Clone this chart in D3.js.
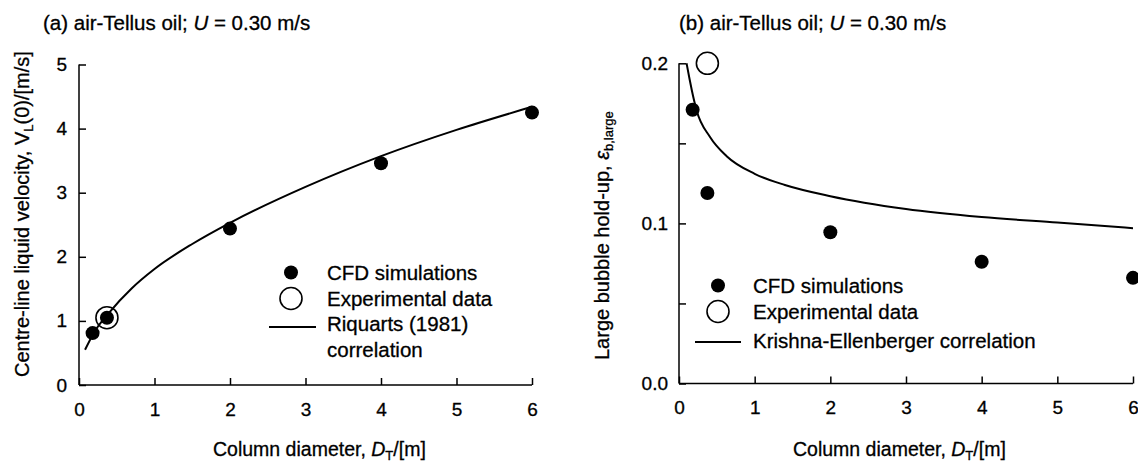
<!DOCTYPE html>
<html>
<head>
<meta charset="utf-8">
<script src="https://cdn.jsdelivr.net/npm/d3@7/dist/d3.min.js"></script>
<style>
  html, body { margin: 0; padding: 0; background: #fff; }
  svg { display: block; font-family: "Liberation Sans", Arial, Helvetica, sans-serif; }
  svg text { stroke: #000; stroke-width: 0.3; fill: #000; }
  .axis path, .axis line { stroke: #000; stroke-width: 1.5; }
  .axis text { font-size: 19px; fill: #000; font-family: "Liberation Sans", Arial, sans-serif; }
</style>
</head>
<body>
<svg id="chart" width="1138" height="462"></svg>
<script>
// ---------- data ----------
const xTicks = [0, 1, 2, 3, 4, 5, 6];

// Panel (a): centre-line liquid velocity
const aCfdX = [0.18, 0.37, 2, 4, 6];
const aCfdY = [0.81, 1.05, 2.44, 3.46, 4.25];
const aExpX = [0.37];
const aExpY = [1.05];
const aCorrX = [0.08, 0.2, 0.4, 0.7, 1, 1.5, 2, 3, 4, 5, 6];
const aCorrY = [0.55, 0.82, 1.13, 1.51, 1.81, 2.2, 2.53, 3.09, 3.57, 3.98, 4.34];
const aYTicks = [0, 1, 2, 3, 4, 5];

// Panel (b): large bubble hold-up
const bCfdX = [0.18, 0.375, 2, 4, 6];
const bCfdY = [0.171, 0.119, 0.0945, 0.076, 0.066];
const bExpX = [0.375];
const bExpY = [0.2];
const bCorrX = [0.1, 0.14, 0.17, 0.23, 0.41, 0.63, 1, 1.4, 2, 3, 4, 5, 6];
const bCorrY = [0.2, 0.19, 0.183, 0.171, 0.154, 0.142, 0.131, 0.124, 0.117, 0.109, 0.104, 0.1005, 0.097];
const bYTicks = [0, 0.05, 0.1, 0.15, 0.2];
const bYTickLabels = ["0.0", "", "0.1", "", "0.2"];

const legendLabels = ["CFD simulations", "Experimental data"];

// ---------- drawing ----------
const svg = d3.select("#chart");
const zip = (xs, ys) => xs.map((x, i) => [x, ys[i]]);

function panel(opts) {
  const x = d3.scaleLinear().domain([0, 6]).range(opts.xRange);
  const y = d3.scaleLinear().domain(opts.yDomain).range(opts.yRange);
  const g = svg.append("g");

  // x axis
  const xa = g.append("g").attr("class", "axis")
    .attr("transform", `translate(0,${opts.yRange[0]})`)
    .call(d3.axisBottom(x).tickValues(xTicks).tickFormat(d3.format("d"))
      .tickSizeInner(-7).tickSizeOuter(0).tickPadding(17.5));
  // y axis
  const ya = g.append("g").attr("class", "axis")
    .attr("transform", `translate(${opts.xRange[0]},0)`)
    .call(d3.axisLeft(y).tickValues(opts.yTicks)
      .tickFormat((d, i) => opts.yLabels[i])
      .tickSizeInner(-7).tickSizeOuter(0).tickPadding(opts.yPad));
  xa.select(".domain").attr("d", `M${opts.xRange[0]},0H${opts.xRange[1]}`);
  ya.select(".domain").attr("d", `M0,${opts.yRange[0]}V${opts.yRange[1]}`);

  // correlation curve
  g.append("path")
    .datum(zip(opts.corrX, opts.corrY))
    .attr("fill", "none").attr("stroke", "#000").attr("stroke-width", 2)
    .attr("d", d3.line().x(d => x(d[0])).y(d => y(d[1])).curve(d3.curveMonotoneX));

  // CFD points
  g.selectAll("circle.cfd").data(zip(opts.cfdX, opts.cfdY)).join("circle")
    .attr("class", "cfd")
    .attr("cx", d => x(d[0])).attr("cy", d => y(d[1])).attr("r", 7)
    .attr("fill", "#000");
  // experimental points
  g.selectAll("circle.exp").data(zip(opts.expX, opts.expY)).join("circle")
    .attr("class", "exp")
    .attr("cx", d => x(d[0])).attr("cy", d => y(d[1])).attr("r", 11)
    .attr("fill", "none").attr("stroke", "#000").attr("stroke-width", 1.6);

  // title
  const t = g.append("text").attr("x", opts.titleX).attr("y", 30)
    .attr("font-size", 20.5);
  t.append("tspan").text(opts.titlePrefix + " air-Tellus oil; ");
  t.append("tspan").attr("font-style", "italic").text("U");
  t.append("tspan").text(" = 0.30 m/s");

  // x label
  const xl = g.append("text").attr("x", opts.xLabelX).attr("y", 456)
    .attr("font-size", 19.5);
  xl.append("tspan").text("Column diameter, ");
  xl.append("tspan").attr("font-style", "italic").text("D");
  xl.append("tspan").attr("font-size", 13).attr("dy", 4).text("T");
  xl.append("tspan").attr("dy", -4).text("/[m]");

  // legend
  const L = opts.legend;
  g.append("circle").attr("cx", L.mx).attr("cy", L.rows[0] - 7.5).attr("r", 7).attr("fill", "#000");
  g.append("circle").attr("cx", L.mx).attr("cy", L.rows[1] - 7).attr("r", 11)
    .attr("fill", "none").attr("stroke", "#000").attr("stroke-width", 1.6);
  g.append("line").attr("x1", L.lx1).attr("x2", L.lx2)
    .attr("y1", L.lineY).attr("y2", L.lineY)
    .attr("stroke", "#000").attr("stroke-width", 2);
  legendLabels.forEach((s, i) => {
    g.append("text").attr("x", L.tx).attr("y", L.rows[i]).attr("font-size", 20.5).text(s);
  });
  L.corrLines.forEach((s, i) => {
    g.append("text").attr("x", L.tx).attr("y", L.rows[2] + i * 25.5).attr("font-size", 20.5).text(s);
  });
  return g;
}

const ga = panel({
  xRange: [79, 532], yDomain: [0, 5], yRange: [385, 64.5],
  yTicks: aYTicks, yLabels: aYTicks.map(String), yPad: 12,
  cfdX: aCfdX, cfdY: aCfdY, expX: aExpX, expY: aExpY,
  corrX: aCorrX, corrY: aCorrY,
  titlePrefix: "(a)", titleX: 43, xLabelX: 213,
  legend: { mx: 291, tx: 327, rows: [280, 305.5, 331], lx1: 269, lx2: 316, lineY: 327,
            corrLines: ["Riquarts (1981)", "correlation"] }
});
const gb = panel({
  xRange: [679, 1133], yDomain: [0, 0.2], yRange: [383.5, 63.3],
  yTicks: bYTicks, yLabels: bYTickLabels, yPad: 11,
  cfdX: bCfdX, cfdY: bCfdY, expX: bExpX, expY: bExpY,
  corrX: bCorrX, corrY: bCorrY,
  titlePrefix: "(b)", titleX: 679, xLabelX: 793,
  legend: { mx: 718, tx: 753, rows: [293, 318.5, 348], lx1: 695, lx2: 741, lineY: 342,
            corrLines: ["Krishna-Ellenberger correlation"] }
});

// y-axis labels
const yla = svg.append("text").attr("transform", "translate(28.5,377) rotate(-90)")
  .attr("font-size", 20);
yla.append("tspan").text("Centre-line liquid velocity, V");
yla.append("tspan").attr("font-size", 13).attr("dy", 4).text("L");
yla.append("tspan").attr("dy", -4).text("(0)/[m/s]");

const ylb = svg.append("text").attr("transform", "translate(608.5,360) rotate(-90)")
  .attr("font-size", 20);
ylb.append("tspan").text("Large bubble hold-up, ");
ylb.append("tspan").attr("font-style", "italic").text("ε");
ylb.append("tspan").attr("font-size", 13).attr("dy", 4).text("b,large");
</script>
</body>
</html>
